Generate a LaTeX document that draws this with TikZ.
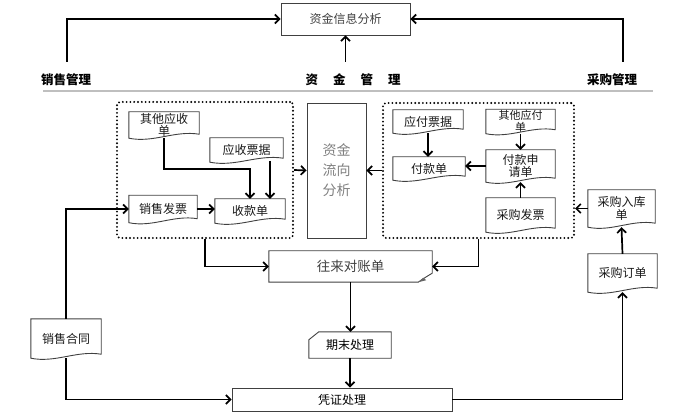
\documentclass[tikz,border=0pt]{standalone}
\usepackage{fontspec}
\setmainfont{Noto Sans CJK SC}
\usetikzlibrary{arrows.meta,calc}
\newcommand\docshape[1]{\draw[docline] let \p1=(#1.south west), \p2=(#1.north east) in (\x1,\y2) -- (\x2,\y2) -- (\x2,\y1+4pt) .. controls ({\x1+0.65*(\x2-\x1)},\y1+8pt) and ({\x1+0.35*(\x2-\x1)},\y1-5pt) .. (\x1,\y1) -- cycle;}
\begin{document}
\begin{tikzpicture}[x=1pt,y=-1pt,
 arr/.style={line width=1.7pt,-{Straight Barb[length=4.5pt,width=9pt]}},
 box/.style={draw=black!75,line width=0.9pt,inner sep=0pt,align=center},
 docline/.style={draw=black!75,line width=0.9pt},
 docn/.style={inner sep=0pt,align=center,font=\fontsize{12}{12.5}\selectfont,text=black!90},
 dotbox/.style={draw,line width=2.1pt,dash pattern=on 0pt off 3.8pt,line cap=round,rounded corners=3pt,inner sep=0pt},
 lbl/.style={font=\fontsize{12.5}{14}\selectfont\bfseries,inner sep=0pt}]
\path[use as bounding box] (0,0) rectangle (698,419);

% top part
\node[box,minimum width=129pt,minimum height=32pt,font=\fontsize{12}{12}\selectfont,text=black!75] (info) at (345.5,19) {资金信息分析};
\node[lbl] (sales) at (66,80) {销售管理};
\node[lbl] (fund) at (353,80) {资\hspace{15pt}金\hspace{15pt}管\hspace{15pt}理};
\node[lbl] (purch) at (612,80) {采购管理};
\draw[line width=2pt,black!25] (43,91) -- (653,91);
\coordinate (s0) at (67,62);
\coordinate (m0) at (345.5,62);
\coordinate (p0) at (623,62);
\draw[arr] (s0) |- (info.west);
\draw[arr] (m0) -- (info.south);
\draw[arr] (p0) |- (info.east);

% dotted groups and middle box
\node[dotbox,minimum width=176pt,minimum height=136pt] (lbox) at (205,170) {};
\node[dotbox,minimum width=191pt,minimum height=135pt] (rbox) at (478.5,170.5) {};
\node[box,minimum width=59pt,minimum height=135pt,text=black!50,font=\fontsize{14}{20}\selectfont] (flow) at (336.5,170.5) {资金\\流向\\分析};

% left group
\node[docn,minimum width=70pt,minimum height=26pt] (qtys) at (164,125) {其他应收\\单};
\docshape{qtys}
\node[docn,minimum width=73pt,minimum height=24pt] (ysp) at (246.5,150) {应收票据};
\docshape{ysp}
\node[docn,minimum width=68pt,minimum height=27pt] (xsfp) at (163,209) {销售发票};
\docshape{xsfp}
\node[docn,minimum width=70pt,minimum height=24pt] (sk) at (250,211) {收款单};
\docshape{sk}

% right group
\node[docn,minimum width=70pt,minimum height=23pt] (yfpj) at (428,121.5) {应付票据};
\docshape{yfpj}
\node[docn,minimum width=72pt,minimum height=23pt] (fk) at (429,168.5) {付款单};
\docshape{fk}
\node[docn,minimum width=69pt,minimum height=24pt,font=\fontsize{11}{11.5}\selectfont] (qtyf) at (520.5,121.5) {其他应付\\单};
\docshape{qtyf}
\node[docn,minimum width=69pt,minimum height=32pt] (fksq) at (520.5,166) {付款申\\请单};
\docshape{fksq}
\node[docn,minimum width=69pt,minimum height=34pt] (cgfp) at (520.5,215) {采购发票};
\docshape{cgfp}

% outside right
\node[docn,minimum width=67pt,minimum height=37pt] (cgrk) at (621.5,208.5) {采购入库\\单};
\docshape{cgrk}
\node[docn,minimum width=69pt,minimum height=38pt] (cgdd) at (622.5,273) {采购订单};
\docshape{cgdd}

% left contract
\node[docn,minimum width=70pt,minimum height=39pt] (xsht) at (66,338.5) {销售合同};
\docshape{xsht}

% reconciliation
\node[inner sep=0pt,minimum width=163pt,minimum height=31pt,font=\fontsize{13.5}{14}\selectfont,text=black!75] (recon) at (350.5,266.5) {往来对账单};
\draw[docline] (recon.north west) -- (recon.north east) -- ([yshift=9pt]recon.south east) .. controls ([xshift=-5pt,yshift=6pt]recon.south east) .. ([xshift=-14pt]recon.south east) -- (recon.south west) -- cycle;
\fill[black!60] ([xshift=-14pt]recon.south east) -- ([xshift=-9pt,yshift=4.5pt]recon.south east) -- ([xshift=-6pt,yshift=2pt]recon.south east) -- cycle;

% period end
\node[inner sep=0pt,minimum width=82pt,minimum height=26pt,font=\fontsize{12}{12}\selectfont] (qm) at (350,345) {期末处理};
\draw[docline] ([yshift=-8pt]qm.north west) -- ([xshift=10pt]qm.north west) -- (qm.north east) -- (qm.south east) -- (qm.south west) -- cycle;

% voucher
\node[box,minimum width=220pt,minimum height=23pt,font=\fontsize{12}{12}\selectfont] (pz) at (342,399.5) {凭证处理};

% connectors
\draw[arr] (lbox.east) -- (flow.west);
\draw[arr] (rbox.west) -- (flow.east);
\draw[arr] (lbox.south) |- (recon.west);
\draw[arr] (rbox.south) |- (recon.east);
\draw[arr] (recon.south) -- (recon.south |- qm.north);
\draw[arr] (qm.south) -- (qm.south |- pz.north);
\draw[arr] (xsht.south) |- (pz.west);
\draw[arr] (xsht.north) |- (xsfp.west);
\draw[arr] (pz.east) -| (cgdd.south);
\draw[arr] (cgdd.north) -- (cgrk.south);
\draw[arr] (cgrk.west) -- (cgrk.west -| rbox.east);
\coordinate (k1) at (250,169);
\coordinate (k2) at (270,161);
\draw[arr] (qtys.south) |- (k1) -- (k1 |- sk.north);
\draw[arr] (k2) -- (k2 |- sk.north);
\draw[arr] (xsfp.east) -- (xsfp.east -| sk.west);
\draw[arr] (yfpj.south) -- (yfpj.south |- fk.north);
\draw[arr] (qtyf.south) -- (qtyf.south |- fksq.north);
\draw[arr] (cgfp.north) -- (fksq.south);
\draw[arr] (fksq.west) -- (fksq.west -| fk.east);
\end{tikzpicture}
\end{document}
